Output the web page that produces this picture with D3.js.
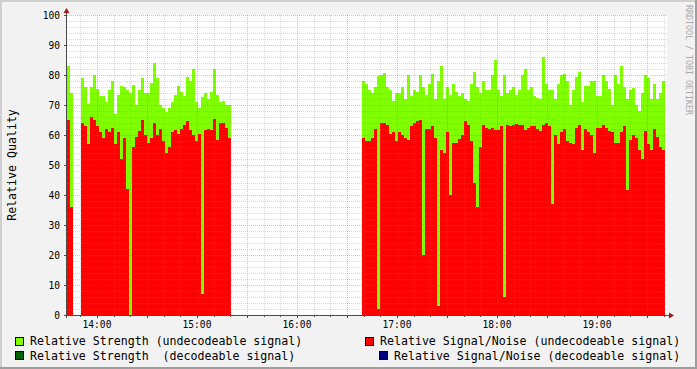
<!DOCTYPE html>
<meta charset="utf-8">
<script src="https://d3js.org/d3.v7.min.js"></script>
<style>
  body { margin: 0; background: #f2f2f2; }
  svg text { font-family: "DejaVu Sans Mono", monospace; }
</style>
<div id="chart"></div>
<script>

// one bar per step (seconds)
var step = 108;

// three recording sessions: start time + values per step
var start1 = "13:42:00";
var strength1 = [83, 74];
var snr1 = [65, 36];

var start2 = "13:50:24";
var strength2 = [79, 76, 70.5, 76, 80, 75.5, 73, 73, 71, 75,
                 78, 67, 73.5, 76.5, 76, 75, 74, 76.7, 70, 75,
                 79, 74, 74, 77.5, 84, 79, 70, 69, 67.6, 69,
                 71, 73.5, 76.5, 74.2, 73, 79.4, 78, 82, 71, 69,
                 72.8, 74, 72, 74.5, 82, 73.5, 70.9, 71.5, 70, 70];
var snr2 = [64, 63, 57, 66, 65, 63, 61, 59, 62, 61,
            62.5, 57, 61, 52, 59, 42, 0, 56, 59.5, 61.5,
            65, 60, 57.5, 59, 63.9, 60, 62, 58, 54, 56,
            61, 61.7, 60.5, 61.9, 63.3, 64.7, 61.7, 60, 58, 60.5,
            7, 61.7, 62, 61.7, 65.5, 58.3, 63.9, 64.1, 62.4, 59.1];

var start3 = "16:39:00";
var strength3 = [78, 77, 75, 74, 76, 79.7, 80, 80.6, 76, 75,
                 71.3, 74, 74, 76, 72, 80, 73, 75, 74.5, 80,
                 76, 73.3, 77, 80.4, 72, 78, 83, 72, 76, 73.3,
                 76.9, 74.2, 73, 74, 72, 71.5, 77, 81.1, 76, 74,
                 78, 75, 75, 80, 85, 75, 73, 80, 74, 75,
                 76, 73.5, 75, 80, 82, 75, 76, 73, 72.5, 72,
                 86, 77, 75, 75, 72, 77, 80, 80.5, 78, 70,
                 75, 79.2, 81, 71, 76.5, 76.5, 78, 78, 73, 73,
                 80, 78, 75.5, 70, 80, 77, 83, 76, 72, 75,
                 75.6, 70, 68, 74, 80, 79, 72, 77, 72, 74, 78];
var snr3 = [59, 58, 58, 58.9, 62, 2, 64, 63.9, 63.3, 60.4,
            61, 58, 61, 60, 59, 58.3, 63, 63.9, 64.7, 65,
            20, 62, 62, 62.9, 58.9, 3, 55, 54, 60.9, 40,
            57.2, 57.2, 58.7, 60, 64.7, 63.5, 58, 44, 36, 56,
            63.3, 62.5, 62, 62.2, 61.7, 61.6, 63, 6, 63.4, 63.1,
            63.5, 63.6, 63.5, 63.3, 61.7, 62.5, 63.1, 62.9, 62, 61.5,
            63.5, 63.9, 63, 37, 60, 57, 61, 62, 58, 57.5,
            57, 62.5, 63.5, 55, 62, 61, 60, 54, 62.2, 62.2,
            63.5, 62.5, 61.3, 61.1, 57.5, 57.5, 61, 63, 41.7, 58.5,
            60, 59, 55, 52, 61.5, 57, 55, 62, 59.5, 56, 55];

var timeDomain = ["13:42:00", "19:42:00"];
var yTicks = [0, 10, 20, 30, 40, 50, 60, 70, 80, 90, 100];
var legendLabels = ["Relative Strength (undecodeable signal)",
                    "Relative Signal/Noise (undecodeable signal)",
                    "Relative Strength  (decodeable signal)",
                    "Relative Signal/Noise (decodeable signal)"];

var W = 697, H = 369;
var plot = {left: 67, right: 667, top: 15, bottom: 315};

var parse = d3.timeParse("%H:%M:%S");

function bars(start, strength, snr) {
  var t0 = parse(start);
  return strength.map(function(g, i) {
    return {t: d3.timeSecond.offset(t0, i * step),
            t1: d3.timeSecond.offset(t0, (i + 1) * step),
            g: g, r: snr[i]};
  });
}
var data = bars(start1, strength1, snr1)
  .concat(bars(start2, strength2, snr2))
  .concat(bars(start3, strength3, snr3));

var x = d3.scaleTime()
  .domain(timeDomain.map(parse))
  .range([plot.left, plot.right]);
var y = d3.scaleLinear()
  .domain([0, 100])
  .range([plot.bottom, plot.top]);

var svg = d3.select("#chart").append("svg")
  .attr("width", W)
  .attr("height", H)
  .style("display", "block");

// background + 3d frame
svg.append("rect").attr("width", W).attr("height", H).attr("fill", "#f2f2f2");
svg.append("path").attr("d", "M0,1H" + W + "M1,0V" + H)
  .attr("stroke", "#cfcfcf").attr("stroke-width", 2).attr("fill", "none");
svg.append("path").attr("d", "M0," + (H - 1) + "H" + W + "M" + (W - 1) + ",0V" + H)
  .attr("stroke", "#9e9e9e").attr("stroke-width", 2).attr("fill", "none");

// canvas
svg.append("rect")
  .attr("x", plot.left).attr("y", plot.top)
  .attr("width", plot.right - plot.left).attr("height", plot.bottom - plot.top)
  .attr("fill", "#ffffff");

// bars: strength first, signal/noise on top
var g = svg.append("g").attr("shape-rendering", "crispEdges");
g.selectAll(".strength").data(data).enter().append("rect")
  .attr("x", function(d) { return x(d.t); })
  .attr("width", function(d) { return Math.min(x(d.t1), plot.right) - x(d.t); })
  .attr("y", function(d) { return y(d.g); })
  .attr("height", function(d) { return y(0) - y(d.g); })
  .attr("fill", "#7fff00");
g.selectAll(".snr").data(data).enter().append("rect")
  .attr("x", function(d) { return x(d.t); })
  .attr("width", function(d) { return Math.min(x(d.t1), plot.right) - x(d.t); })
  .attr("y", function(d) { return y(d.r); })
  .attr("height", function(d) { return y(0) - y(d.r); })
  .attr("fill", "#ff0000");

// grid, drawn over the data like rrdtool does
var minorCol = "rgba(140,140,140,0.32)", majorCol = "rgba(230,70,70,0.4)";
var grid = svg.append("g").attr("shape-rendering", "crispEdges")
  .attr("stroke-dasharray", "1,1");
var minorY = d3.range(0, 101, 2).filter(function(v) { return v % 10; });
grid.selectAll(".hmin").data(minorY).enter().append("line")
  .attr("x1", plot.left).attr("x2", plot.right)
  .attr("y1", function(d) { return y(d) + 0.5; }).attr("y2", function(d) { return y(d) + 0.5; })
  .attr("stroke", minorCol);
var minorX = x.ticks(d3.timeMinute.every(10)).filter(function(t) { return t.getMinutes() % 30; });
grid.selectAll(".vmin").data(minorX).enter().append("line")
  .attr("x1", function(d) { return x(d) + 0.5; }).attr("x2", function(d) { return x(d) + 0.5; })
  .attr("y1", plot.top).attr("y2", plot.bottom)
  .attr("stroke", minorCol);
grid.selectAll(".hmaj").data(yTicks.slice(1)).enter().append("line")
  .attr("x1", plot.left).attr("x2", plot.right)
  .attr("y1", function(d) { return y(d) + 0.5; }).attr("y2", function(d) { return y(d) + 0.5; })
  .attr("stroke", majorCol);
var majorX = x.ticks(d3.timeMinute.every(30));
grid.selectAll(".vmaj").data(majorX).enter().append("line")
  .attr("x1", function(d) { return x(d) + 0.5; }).attr("x2", function(d) { return x(d) + 0.5; })
  .attr("y1", plot.top).attr("y2", plot.bottom)
  .attr("stroke", majorCol);

// axes
var ax = svg.append("g").attr("shape-rendering", "crispEdges").attr("stroke", "#4a4a4a");
ax.append("line").attr("x1", plot.left - 0.5).attr("x2", plot.left - 0.5)
  .attr("y1", plot.top - 5).attr("y2", plot.bottom + 3);
ax.append("line").attr("x1", plot.left - 3).attr("x2", plot.right + 4)
  .attr("y1", plot.bottom + 0.5).attr("y2", plot.bottom + 0.5);
ax.selectAll(".yt").data(yTicks).enter().append("line")
  .attr("x1", plot.left - 3).attr("x2", plot.left)
  .attr("y1", function(d) { return y(d) + 0.5; }).attr("y2", function(d) { return y(d) + 0.5; });
ax.selectAll(".xt").data(majorX).enter().append("line")
  .attr("x1", function(d) { return x(d) + 0.5; }).attr("x2", function(d) { return x(d) + 0.5; })
  .attr("y1", plot.bottom).attr("y2", plot.bottom + 3);
ax.selectAll(".xt2").data(minorX).enter().append("line")
  .attr("x1", function(d) { return x(d) + 0.5; }).attr("x2", function(d) { return x(d) + 0.5; })
  .attr("y1", plot.bottom).attr("y2", plot.bottom + 2);

// arrows
svg.append("path")
  .attr("d", "M" + (plot.left - 0.5) + "," + (plot.top - 7) + "l-3,5h6z")
  .attr("fill", "#a01818");
svg.append("path")
  .attr("d", "M" + (plot.right + 7) + "," + (plot.bottom + 0.5) + "l-5,-3v6z")
  .attr("fill", "#a01818");

// tick labels
svg.selectAll(".ylab").data(yTicks).enter().append("text")
  .attr("x", plot.left - 7)
  .attr("y", function(d) { return y(d) + 3.5; })
  .attr("text-anchor", "end")
  .style("font-size", "9.6px")
  .attr("fill", "#000")
  .text(function(d) { return d; });
svg.selectAll(".xlab").data(x.ticks(d3.timeHour.every(1))).enter().append("text")
  .attr("x", function(d) { return x(d); })
  .attr("y", plot.bottom + 12.5)
  .attr("text-anchor", "middle")
  .style("font-size", "9.6px")
  .attr("fill", "#000")
  .text(d3.timeFormat("%H:%M"));

// titles
svg.append("text")
  .attr("transform", "translate(16,165) rotate(-90)")
  .attr("text-anchor", "middle")
  .style("font-size", "11.6px")
  .text("Relative Quality");
svg.append("text")
  .attr("transform", "translate(685.5,60) rotate(90)")
  .attr("text-anchor", "middle")
  .style("font-size", "8.3px")
  .attr("fill", "#a8a8a8")
  .text("RRDTOOL / TOBI OETIKER");

// legend
var legendColors = ["#7fff00", "#ff0000", "#006400", "#000080"];
var legendPos = [[15, 336.5], [365, 336.5], [15, 351], [379, 351]];
var leg = svg.selectAll(".leg").data(legendLabels).enter().append("g")
  .attr("transform", function(d, i) { return "translate(" + legendPos[i][0] + "," + legendPos[i][1] + ")"; });
leg.append("rect")
  .attr("x", 0.5).attr("y", 0.5).attr("width", 8).attr("height", 8)
  .attr("fill", function(d, i) { return legendColors[i]; })
  .attr("stroke", "#000").attr("stroke-width", 1)
  .attr("shape-rendering", "crispEdges");
leg.append("text")
  .attr("x", 15).attr("y", 8.5)
  .style("font-size", "11.6px")
  .style("white-space", "pre")
  .attr("fill", "#000")
  .text(function(d) { return d; });

</script>
